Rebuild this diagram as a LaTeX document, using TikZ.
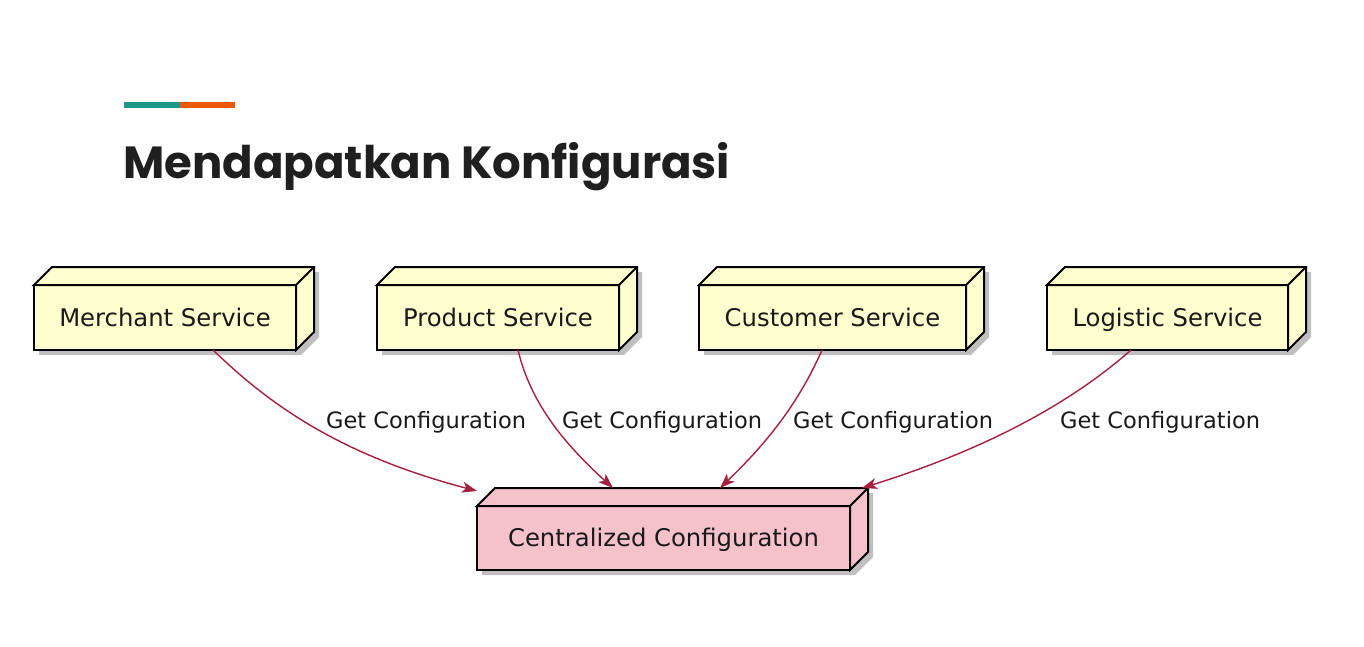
\documentclass[tikz,border=0pt]{standalone}
\usepackage{fontspec}
\setmainfont{DejaVu Sans}
\newfontfamily\titlefont{Poppins}
\usetikzlibrary{arrows.meta,calc}
\definecolor{nodefill}{RGB}{254,254,206}
\definecolor{pinkfill}{RGB}{245,194,203}
\definecolor{edgecol}{RGB}{163,32,64}
\definecolor{barteal}{RGB}{28,152,136}
\definecolor{barorange}{RGB}{236,88,10}
\tikzset{
  boxline/.style={draw=black, line width=2pt, line join=miter},
  boxnode/.style={boxline, inner sep=0pt, outer sep=0pt, font=\fontsize{24.3}{28}\selectfont, text=black!90, text height=17.7pt, text depth=0pt},
  shadowfill/.style={fill=black, opacity=0.25},
  conn/.style={draw=edgecol, line width=1.4pt, -{Stealth[length=15pt,width=11pt,inset=4pt]}},
  lbl/.style={font=\fontsize{22.5}{26}\selectfont, text=black!90, anchor=base west, inner sep=0pt}
}
% name, x1, y1, x2, y2, fill, text
\newcommand\threedbox[7]{%
  \fill[shadowfill] ({#2+5},{#5+5}) -- ({#2+5},{#3+5}) -- ({#2+23},{#3-13}) -- ({#4+23},{#3-13}) -- ({#4+23},{#5-13}) -- ({#4+5},{#5+5}) -- cycle;
  \node[boxnode, fill=#6, minimum width={#4-#2}, minimum height={#5-#3}] (#1) at ({(#2+#4)/2},{(#3+#5)/2}) {#7};
  \filldraw[boxline, fill=#6] (#1.north west) -- ++(18,-18) -- ($(#1.north east)+(18,-18)$) -- ($(#1.south east)+(18,-18)$) -- (#1.south east) -- (#1.north east) -- cycle;
  \draw[boxline] (#1.north east) -- ++(18,-18);
}
\begin{document}
\begin{tikzpicture}[x=1pt,y=-1pt]
\useasboundingbox (0,0) rectangle (1364,646);
\fill[white] (0,0) rectangle (1364,646);
% title bar
\fill[barteal] (124,102) rectangle (180,108);
\fill[barorange] (180,102) rectangle (235,108);
\node[anchor=base west, inner sep=0pt, font=\titlefont\bfseries\fontsize{45}{50}\selectfont, text=black!88] (title) at (123,178) {Mendapatkan Konfigurasi};
% boxes
\threedbox{m}{34}{285}{296}{350}{nodefill}{Merchant Service}
\threedbox{p}{377}{285}{619}{350}{nodefill}{Product Service}
\threedbox{cs}{699}{285}{966}{350}{nodefill}{Customer Service}
\threedbox{l}{1047}{285}{1288}{350}{nodefill}{Logistic Service}
\threedbox{c}{477}{506}{850}{570}{pinkfill}{Centralized Configuration}
% connectors
\draw[conn] ([xshift=179pt]m.south west) .. controls (270,405) and (340,455) .. ([yshift=15pt]c.north west);
\draw[conn] ([xshift=141pt]p.south west) .. controls (530,400) and (560,440) .. ([xshift=136pt,yshift=18pt]c.north west);
\draw[conn] ([xshift=123pt]cs.south west) .. controls (800,400) and (770,440) .. ([xshift=243pt,yshift=18pt]c.north west);
\draw[conn] ([xshift=84pt]l.south west) .. controls (1080,395) and (1000,445) .. ([xshift=12pt,yshift=18pt]c.north east);
% labels
\node[lbl] (l1) at (326,428) {Get Configuration};
\node[lbl] (l2) at (562,428) {Get Configuration};
\node[lbl] (l3) at (793,428) {Get Configuration};
\node[lbl] (l4) at (1060,428) {Get Configuration};
\end{tikzpicture}
\end{document}
